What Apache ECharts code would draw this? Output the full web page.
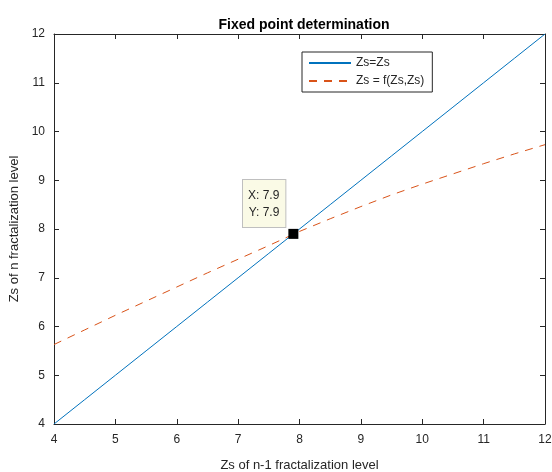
<!DOCTYPE html>
<html>
<head>
<meta charset="utf-8">
<script src="https://cdn.jsdelivr.net/npm/echarts@6/dist/echarts.min.js"></script>
<style>html,body{margin:0;padding:0;background:#fff;}#c{width:552px;height:472px;}</style>
</head>
<body>
<div id="c"></div>
<script>
var xValues = [4, 4.5, 5, 5.5, 6, 6.5, 7, 7.5, 8, 8.5, 9, 9.5, 10, 10.5, 11, 11.5, 12];
var identityValues = [4, 4.5, 5, 5.5, 6, 6.5, 7, 7.5, 8, 8.5, 9, 9.5, 10, 10.5, 11, 11.5, 12];
var mapValues = [5.63, 5.93, 6.23, 6.52, 6.81, 7.10, 7.38, 7.66, 7.95, 8.21, 8.46, 8.70, 8.92, 9.13, 9.34, 9.54, 9.73];
var fixedPoint = [7.9, 7.9];
var tickValues = [4, 5, 6, 7, 8, 9, 10, 11, 12];
var seriesNames = ['Zs=Zs', 'Zs = f(Zs,Zs)'];

function pairs(xs, ys) { return xs.map(function (x, i) { return [x, ys[i]]; }); }

var font = 'Liberation Sans, Arial, sans-serif';
var axisCommon = {
  type: 'value', min: tickValues[0], max: tickValues[tickValues.length - 1], interval: 1,
  splitLine: { show: false },
  axisLine: { show: true, onZero: false, lineStyle: { color: '#262626', width: 1 } },
  axisTick: { show: true, inside: true, length: 5, lineStyle: { color: '#262626' } }
};
function ax(extra) { return Object.assign({}, JSON.parse(JSON.stringify(axisCommon)), extra); }

var chart = echarts.init(document.getElementById('c'));
chart.setOption({
  backgroundColor: '#ffffff',
  animation: false,
  title: {
    text: 'Fixed point determination', left: 299, top: 13, textAlign: 'center',
    textStyle: { fontFamily: font, fontSize: 14, fontWeight: 'bold', color: '#000' }
  },
  grid: { left: 54, right: 7, top: 34, bottom: 48, containLabel: false, outerBoundsMode: 'none' },
  legend: {
    left: 302, top: 52, orient: 'vertical', itemGap: 6, itemWidth: 42, itemHeight: 10,
    padding: [5, 8, 5, 6], borderColor: '#262626', borderWidth: 1, backgroundColor: '#fff',
    textStyle: { fontFamily: font, fontSize: 12, color: '#262626' },
    itemStyle: { opacity: 0, borderWidth: 0 },
    data: seriesNames
  },
  xAxis: [
    ax({ position: 'bottom', name: 'Zs of n-1 fractalization level', nameLocation: 'middle', nameGap: 35,
      nameTextStyle: { fontFamily: font, fontSize: 13, color: '#262626' },
      axisLabel: { margin: 10, fontFamily: font, fontSize: 12, color: '#262626' } }),
    ax({ position: 'top', axisLabel: { show: false } })
  ],
  yAxis: [
    ax({ position: 'left', name: 'Zs of n fractalization level', nameLocation: 'middle', nameGap: 28,
      nameTextStyle: { fontFamily: font, fontSize: 13, color: '#262626' },
      axisLabel: { margin: 9, fontFamily: font, fontSize: 12, color: '#262626' } }),
    ax({ position: 'right', axisLabel: { show: false } })
  ],
  series: [
    { name: seriesNames[0], type: 'line', data: pairs(xValues, identityValues), symbol: 'none',
      lineStyle: { color: '#0072BD', width: 1 }, itemStyle: { color: '#0072BD' } },
    { name: seriesNames[1], type: 'line', data: pairs(xValues, mapValues), symbol: 'none', smooth: false,
      lineStyle: { color: '#D95319', width: 1, type: [8, 7] }, itemStyle: { color: '#D95319' } },
    { name: 'tip', type: 'scatter', data: [fixedPoint], symbol: 'rect', symbolSize: 10,
      itemStyle: { color: '#000', opacity: 1 }, z: 10,
      label: { show: true, position: [-3, -2], align: 'right', verticalAlign: 'bottom',
        formatter: function (p) { return 'X: ' + p.value[0] + '\nY: ' + p.value[1]; },
        fontFamily: font, fontSize: 12, color: '#262626', lineHeight: 17,
        backgroundColor: '#FAFAE6', borderColor: '#BFBFBF', borderWidth: 1, padding: [7, 6, 6, 5] } }
  ]
});
</script>
</body>
</html>
